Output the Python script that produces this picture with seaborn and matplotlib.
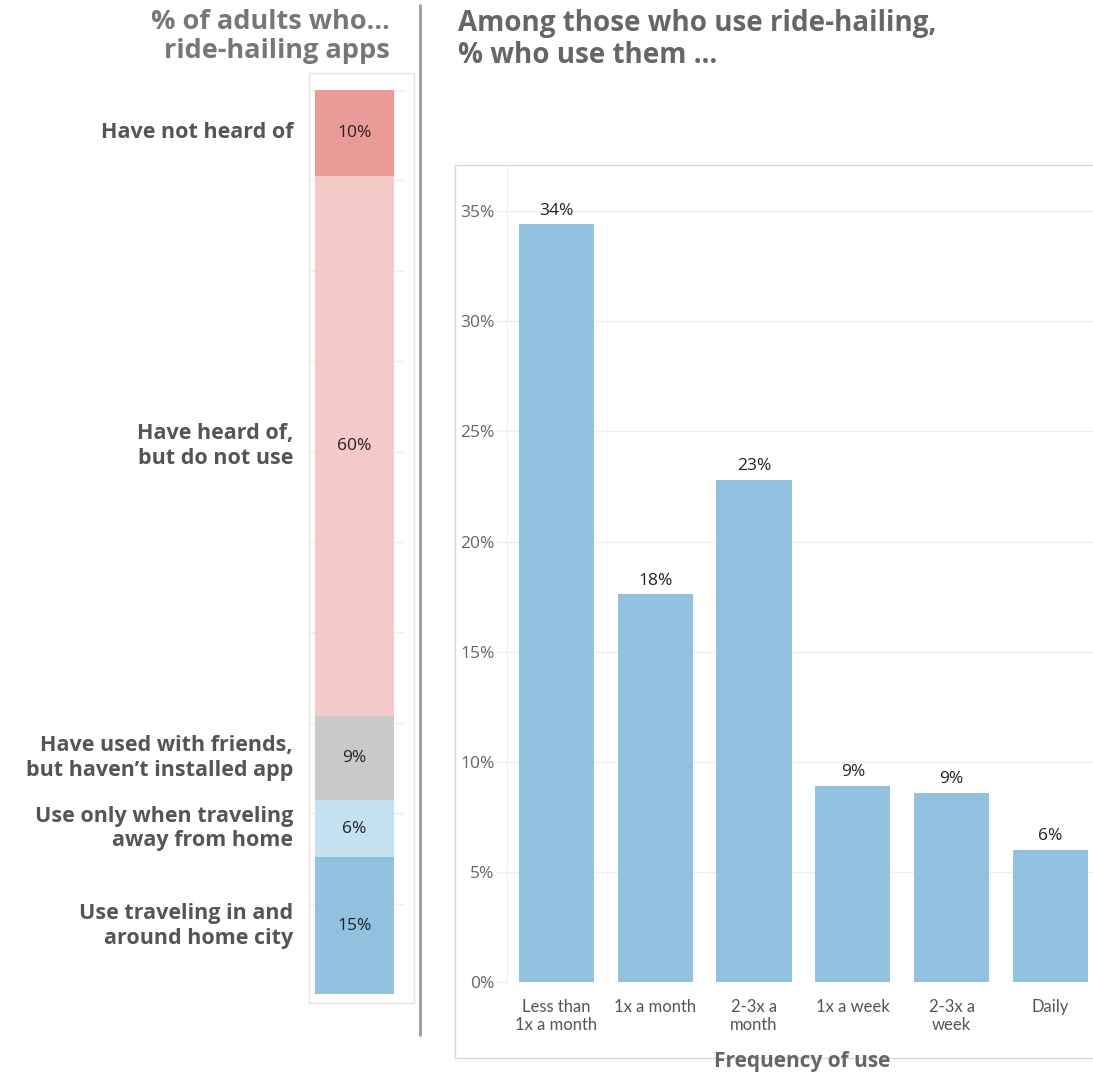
import numpy as np
import pandas as pd
import seaborn as sns
import matplotlib.pyplot as plt
from matplotlib.patches import Rectangle
from matplotlib.lines import Line2D
from matplotlib.transforms import blended_transform_factory

# Left panel: awareness / use of ride-hailing apps (stacked, top to bottom)
aware_labels = [
    "Have not heard of",
    "Have heard of,\nbut do not use",
    "Have used with friends,\nbut haven\u2019t installed app",
    "Use only when traveling\naway from home",
    "Use traveling in and\naround home city",
]
aware_values = [9.5, 59.8, 9.2, 6.4, 15.1]
aware_colors = ["#EA9A97", "#F5C9C9", "#C9C9C9", "#C5E0EF", "#92C1DF"]

# Right panel: frequency of use among users
freq_labels = ["Less than\n1x a month", "1x a month", "2-3x a\nmonth",
               "1x a week", "2-3x a\nweek", "Daily"]
freq_values = [34.4, 17.6, 22.8, 8.9, 8.6, 6.0]
freq_ticks = [0, 5, 10, 15, 20, 25, 30, 35]

sns.set_style("white")
plt.rcParams["font.family"] = ["Open Sans", "DejaVu Sans"]

W, H = 1093, 1076
fig = plt.figure(figsize=(W / 100, H / 100), dpi=100)


def box(x0, y0, x1, y1):
    return [x0 / W, 1 - y1 / H, (x1 - x0) / W, (y1 - y0) / H]


# ---- left stacked bar ----
ax1 = fig.add_axes(box(310, 90, 405, 994))
cum = np.cumsum(aware_values)
for i in reversed(range(len(aware_values))):
    sns.barplot(x=["all"], y=[cum[i]], color=aware_colors[i], saturation=1,
                width=0.83, linewidth=0, ax=ax1, zorder=2)
ax1.set_xlim(-0.468, 0.532)
ax1.set_ylim(100, 0)
ax1.set_yticks(range(0, 101, 10))
ax1.yaxis.grid(True, color="#eeeeee", lw=1, zorder=0)
ax1.set_axisbelow(True)
ax1.tick_params(left=False, bottom=False, labelleft=False, labelbottom=False)
ax1.set_xlabel("")
ax1.set_ylabel("")
sns.despine(ax=ax1, left=True, bottom=True)

lab_tr = blended_transform_factory(ax1.transAxes, ax1.transData)
for lab, v, c in zip(aware_labels, aware_values, cum - np.array(aware_values) / 2):
    ax1.text(0, c, f"{v:.0f}%", ha="center", va="center", fontsize=12.5,
             color="#222222")
    ax1.text(-0.178, c, lab, transform=lab_tr, ha="right", va="center",
             fontsize=15.5, fontweight="bold", color="#555555", linespacing=1.22)

# ---- right bar chart ----
ax2 = fig.add_axes(box(507, 165, 1093, 982))
sns.barplot(x=freq_labels, y=freq_values, color="#92C1DF", saturation=1,
            width=0.76, linewidth=0, ax=ax2, zorder=2)
ax2.set_xlim(-0.5, 5.43)
ax2.set_ylim(0, 37.1)
ax2.set_yticks(freq_ticks)
ax2.set_yticklabels([f"{t}%" for t in freq_ticks])
ax2.yaxis.grid(True, color="#eeeeee", lw=1, zorder=0)
ax2.set_axisbelow(True)
ax2.tick_params(axis="y", left=True, length=7, width=1, color="#eeeeee",
                labelsize=12.5, labelcolor="#666666", pad=2)
ax2.tick_params(axis="x", which="major", length=0, labelsize=12,
                labelcolor="#555555", pad=12)
ax2.set_xticks(np.arange(-0.5, 5, 1), minor=True)
ax2.tick_params(axis="x", which="minor", length=10, width=1, color="#e5e5e5")
for t in ax2.get_xticklabels():
    t.set_family(["Lato", "DejaVu Sans"])
    t.set_linespacing(1.15)
ax2.set_xlabel("")
ax2.set_ylabel("")
for s in ["top", "right", "bottom"]:
    ax2.spines[s].set_visible(False)
ax2.spines["left"].set_color("#f0f0f0")

ax2.bar_label(ax2.containers[0], labels=[f"{v:.0f}%" for v in freq_values],
              padding=4, fontsize=12.5, color="#222222")

# ---- frames, divider, titles ----
fig.add_artist(Rectangle((309 / W, 1 - 1003 / H), 105 / W, 930 / H,
                         transform=fig.transFigure, fill=False, ec="#e2e2e2", lw=1))
fig.add_artist(Rectangle((455 / W, 1 - 1058 / H), 650 / W, 893 / H,
                         transform=fig.transFigure, fill=False, ec="#d8d8d8", lw=1))
fig.add_artist(Line2D([420 / W, 420 / W], [1 - 5 / H, 1 - 1035 / H],
                      transform=fig.transFigure, color="#999999", lw=2))

fig.text(390 / W, 1 - 9 / H, "% of adults who\u2026\nride-hailing apps",
         ha="right", va="top", fontsize=19.5, fontweight="bold", color="#777777",
         linespacing=1.15)
fig.text(458 / W, 1 - 9 / H, "Among those who use ride-hailing,\n% who use them \u2026",
         ha="left", va="top", fontsize=20, fontweight="bold", color="#666666",
         linespacing=1.15)
fig.text(802 / W, 1 - 1061 / H, "Frequency of use", ha="center", va="center",
         fontsize=15, fontweight="bold", color="#666666")

fig.savefig("out.png", dpi=100)
